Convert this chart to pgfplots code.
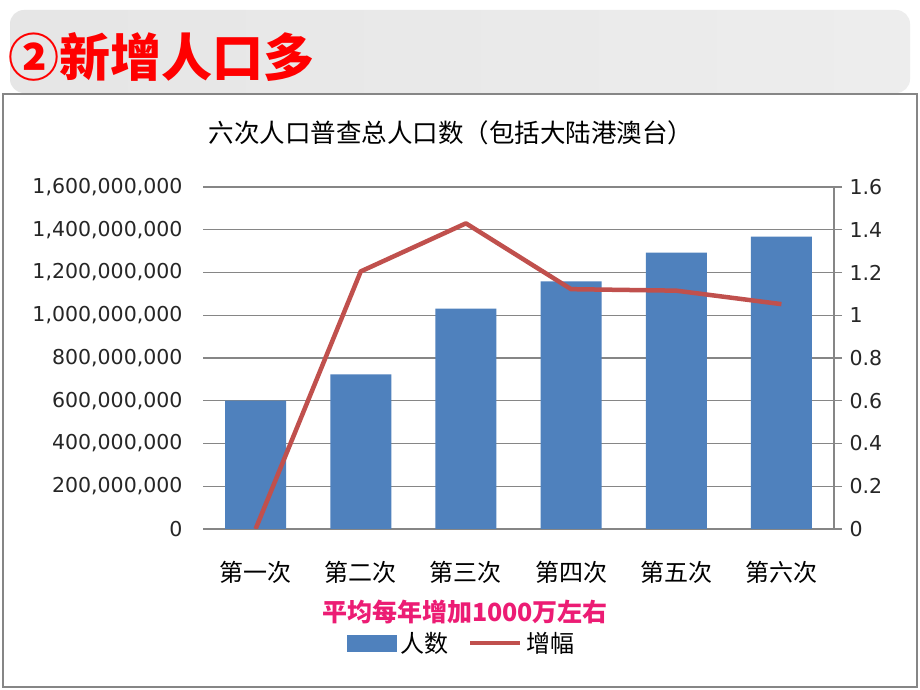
\documentclass[border=0pt]{standalone}
\usepackage{pgfplots}
\pgfplotsset{compat=1.18}
\usepackage{fontspec}
\setmainfont{DejaVu Sans}
\newfontfamily\cjk{Noto Sans CJK SC}
\definecolor{barblue}{HTML}{4F81BD}
\definecolor{linered}{HTML}{C0504D}
\definecolor{gridgray}{HTML}{868686}
\definecolor{pinktext}{HTML}{EC1C74}
\definecolor{ticktext}{HTML}{262626}
\begin{document}
\begin{tikzpicture}
\fill[white] (0pt,0pt) rectangle (920pt,690pt);
\shade[left color=black!10, right color=black!7, rounded corners=14pt] (10pt,597pt) rectangle (910pt,680pt);
\draw[gridgray, line width=2pt] (3pt,3pt) rectangle (917pt,596pt);
\node[anchor=west, text=red, font=\cjk\bfseries\fontsize{51}{51}\selectfont, inner sep=0pt] at (8pt,633pt) {②新增人口多};
\node[font=\cjk\fontsize{25.5}{26}\selectfont, inner sep=0pt] at (451pt,557pt) {六次人口普查总人口数（包括大陆港澳台）};
\node[font=\cjk\bfseries\fontsize{25}{25}\selectfont, text=pinktext, inner sep=0pt] at (465pt,78pt) {平均每年增加1000万左右};
\begin{axis}[
  at={(203pt,161pt)}, anchor=south west, scale only axis,
  width=631pt, height=342pt,
  xmin=-0.5, xmax=5.5, ymin=0, ymax=1.6e9,
  axis line style={draw=none},
  ymajorgrids, grid style={gridgray, line width=1.3pt},
  ytick={0,2e8,4e8,6e8,8e8,1e9,1.2e9,1.4e9,1.6e9},
  yticklabels={0,{200,000,000},{400,000,000},{600,000,000},{800,000,000},{1,000,000,000},{1,200,000,000},{1,400,000,000},{1,600,000,000}},
  scaled y ticks=false,
  xtick={0,1,2,3,4,5},
  xticklabels={第一次,第二次,第三次,第四次,第五次,第六次},
  major tick length=0pt,
  yticklabel style={font=\fontsize{20.5}{22}\selectfont, text=ticktext, xshift=-17pt},
  xticklabel style={font=\cjk\fontsize{24}{24}\selectfont, anchor=center, yshift=-43pt},
  ybar, bar width=61pt,
]
\addplot[fill=barblue, draw=none] coordinates {(0,601000000) (1,723000000) (2,1031000000) (3,1158000000) (4,1293000000) (5,1368000000)};
\end{axis}
\begin{axis}[
  at={(203pt,161pt)}, anchor=south west, scale only axis,
  width=631pt, height=342pt,
  xmin=-0.5, xmax=5.5, ymin=0, ymax=1.6,
  axis y line*=right, axis x line=none,
  axis line style={gridgray, line width=1.3pt, -},
  ytick={0,0.2,0.4,0.6,0.8,1,1.2,1.4,1.6},
  yticklabels={0,0.2,0.4,0.6,0.8,1,1.2,1.4,1.6},
  tick align=outside, major tick length=8pt,
  tick style={gridgray, line width=1.3pt},
  yticklabel style={font=\fontsize{20.5}{22}\selectfont, text=ticktext, xshift=4pt},
  legend style={at={(0.41,-0.333)}, anchor=center, draw=none, fill=none,
    font=\cjk\fontsize{24}{24}\selectfont, legend columns=2,
    /tikz/every even column/.append style={column sep=18pt},
    /tikz/every odd column/.append style={column sep=2pt},
    inner sep=0pt},
  legend cell align=left,
]
\addlegendimage{legend image code/.code={\fill[barblue] (0pt,-8pt) rectangle (49pt,8pt);}}
\addlegendentry{人数}
\addplot[linered, line width=4.5pt, line join=round,
  legend image code/.code={\draw[linered, line width=4.5pt] (0pt,0pt) -- (50pt,0pt);}]
  coordinates {(0,0) (1,1.205) (2,1.43) (3,1.122) (4,1.115) (5,1.052)};
\addlegendentry{增幅}
\end{axis}
\end{tikzpicture}
\end{document}
